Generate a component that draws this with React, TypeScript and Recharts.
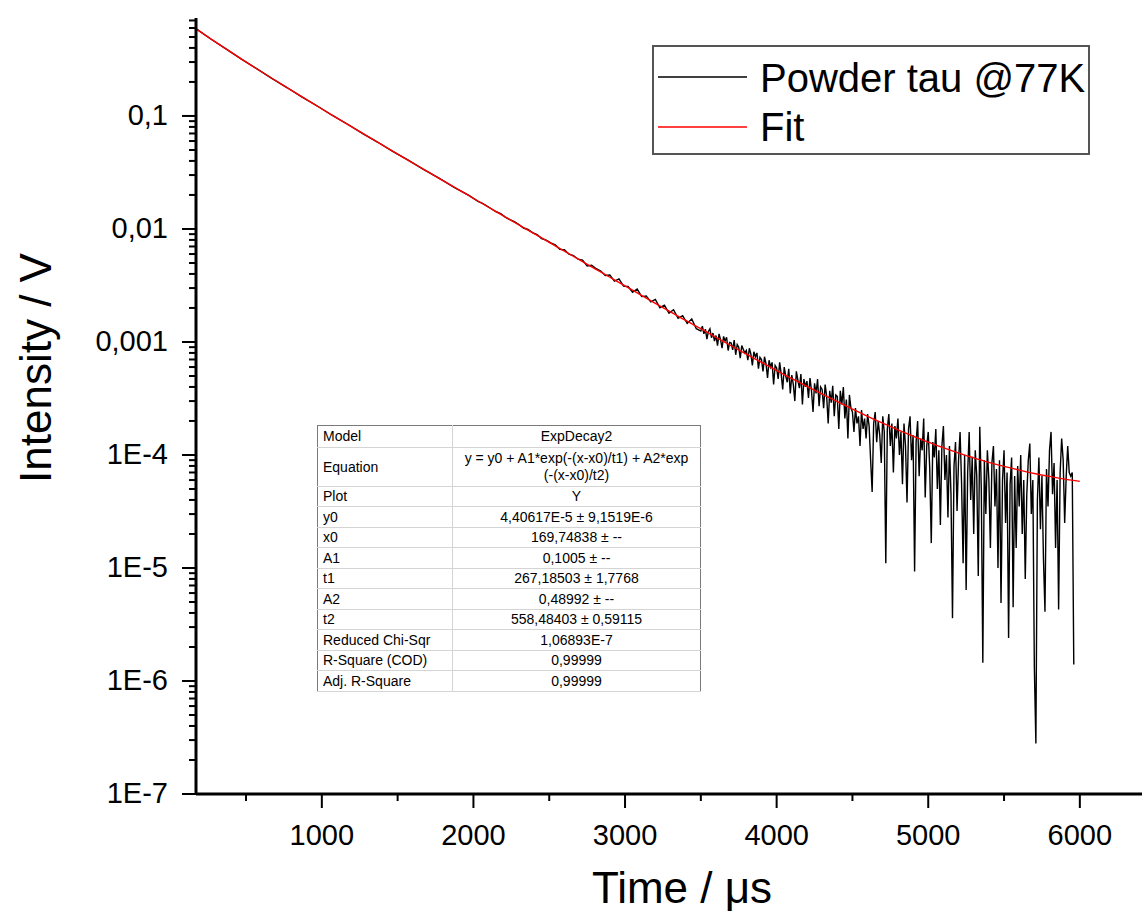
import React from "react";
import { LineChart, Line, XAxis, YAxis } from "recharts";

// measured decay, sampled more finely where the signal gets noisy
const earlyStart = 170;
const earlyStep = 100;
const decayEarly = [
  0.592, 0.477, 0.391, 0.318, 0.262, 0.215, 0.1785, 0.1468, 0.1225, 0.101,
  0.0845, 0.0698, 0.0585, 0.0484, 0.0407, 0.0337, 0.0283, 0.0235, 0.0198,
];

const midStart = 2000;
const midStep = 30;
const decayMid = [
  0.01866, 0.01758, 0.01688, 0.01590, 0.01502, 0.01420, 0.01368, 0.01275, 0.01212, 0.01160,
  0.01095, 0.01020, 0.00990, 0.00928, 0.00890, 0.00821, 0.00798, 0.00755, 0.00722, 0.00660,
  0.00655, 0.00598, 0.00581, 0.00540, 0.00530, 0.00470, 0.00478, 0.00445, 0.00425, 0.00388,
  0.00392, 0.00346, 0.00361, 0.00312, 0.00310, 0.00275, 0.00294, 0.00252, 0.00255, 0.00226,
  0.00238, 0.00201, 0.00212, 0.00180, 0.00193, 0.00162, 0.00171, 0.00146, 0.00160, 0.00131,
];

const lateStart = 3500;
const lateStep = 10;
const decayLate = [
  1.25e-3, 1.38e-3, 1.18e-3, 1.30e-3, 1.06e-3, 1.24e-3, 1.31e-3, 1.09e-3, 1.20e-3, 1.02e-3,
  1.14e-3, 0.93e-3, 1.18e-3, 1.05e-3, 0.88e-3, 1.12e-3, 1.02e-3, 1.10e-3, 0.84e-3, 0.99e-3,
  0.98e-3, 0.85e-3, 1.04e-3, 0.77e-3, 0.95e-3, 0.90e-3, 0.72e-3, 0.93e-3, 0.86e-3, 0.80e-3,
  0.84e-3, 0.69e-3, 0.88e-3, 0.78e-3, 0.62e-3, 0.82e-3, 0.74e-3, 0.80e-3, 0.58e-3, 0.73e-3,
  0.70e-3, 0.55e-3, 0.74e-3, 0.64e-3, 0.48e-3, 0.69e-3, 0.60e-3, 0.66e-3, 0.42e-3, 0.62e-3,
  0.59e-3, 0.47e-3, 0.66e-3, 0.52e-3, 0.38e-3, 0.60e-3, 0.50e-3, 0.44e-3, 0.58e-3, 0.35e-3,
  0.51e-3, 0.42e-3, 0.30e-3, 0.55e-3, 0.46e-3, 0.39e-3, 0.52e-3, 0.28e-3, 0.47e-3, 0.40e-3,
  0.45e-3, 0.32e-3, 0.48e-3, 0.37e-3, 0.24e-3, 0.43e-3, 0.35e-3, 0.47e-3, 0.27e-3, 0.40e-3,
  0.38e-3, 0.26e-3, 0.42e-3, 0.33e-3, 0.19e-3, 0.37e-3, 0.29e-3, 0.41e-3, 0.22e-3, 0.34e-3,
  0.33e-3, 0.17e-3, 0.37e-3, 0.28e-3, 0.40e-3, 0.21e-3, 0.31e-3, 0.14e-3, 0.34e-3, 0.26e-3,
];

const tailStart = 4500;
const tailStep = 10;
const decayTail = [
  2.4e-4, 1.6e-4, 2.6e-4, 1.9e-4, 2.2e-4, 1.2e-4, 2.5e-4, 1.7e-4, 2.1e-4, 1.4e-4,
  2.3e-4, 1.8e-4, 9.0e-5, 4.7e-5, 1.9e-4, 2.4e-4, 1.3e-4, 2.0e-4, 1.5e-4, 8.5e-5,
  2.2e-4, 1.6e-4, 1.1e-5, 1.7e-4, 2.3e-4, 1.2e-4, 1.9e-4, 7.0e-5, 1.8e-4, 1.4e-4,
  2.1e-4, 1.0e-4, 1.6e-4, 5.5e-5, 1.9e-4, 1.2e-4, 3.8e-5, 1.7e-4, 2.2e-4, 9.0e-5,
  1.5e-4, 9.3e-6, 1.3e-4, 2.0e-4, 6.5e-5, 1.4e-4, 1.1e-4, 2.1e-4, 4.2e-5, 1.2e-4,
  1.6e-4, 7.5e-5, 1.66e-5, 1.3e-4, 9.5e-5, 1.7e-4, 5.0e-5, 1.1e-4, 2.4e-5, 1.2e-4,
  1.8e-4, 6.0e-5, 1.0e-4, 2.8e-5, 1.2e-4, 4.5e-5, 3.6e-6, 8.0e-5, 1.3e-4, 3.2e-5,
  9.0e-5, 1.6e-4, 5.5e-5, 1.1e-5, 1.0e-4, 6.4e-6, 7.0e-5, 1.6e-4, 4.0e-5, 9.5e-5,
  2.0e-5, 1.1e-4, 6.5e-5, 8.5e-6, 1.78e-4, 5.0e-5, 1.45e-6, 9.0e-5, 3.0e-5, 1.1e-4,
  6.0e-5, 1.5e-5, 8.5e-5, 1.2e-4, 3.5e-5, 7.5e-5, 1.0e-5, 9.0e-5, 4.9e-6, 6.0e-5,
  1.1e-4, 2.5e-5, 7.0e-5, 2.4e-6, 5.5e-5, 9.5e-5, 4.5e-6, 6.5e-5, 1.5e-5, 8.0e-5,
  3.5e-5, 1.0e-4, 2.0e-5, 6.0e-5, 8.0e-6, 4.5e-5, 9.0e-5, 1.26e-4, 3.0e-5, 6.0e-5,
  1.3e-6, 2.8e-7, 4.0e-5, 9.5e-5, 2.2e-5, 6.5e-5, 1.2e-5, 4.1e-6, 7.5e-5, 3.5e-5,
  1.1e-4, 1.6e-4, 4.5e-5, 8.5e-5, 1.5e-5, 6.0e-5, 4.3e-6, 7.0e-5, 1.4e-4, 9.0e-5,
  2.5e-5, 6.5e-5, 1.2e-4, 7.0e-5, 6.5e-5, 7.0e-5, 1.4e-6,
];

// ExpDecay2 fit curve
const fitTimes = [
  170, 270, 370, 470, 570, 670, 770, 870, 970, 1070, 1170, 1270, 1370, 1470, 1570, 1670,
  1770, 1870, 1970, 2100, 2200, 2300, 2400, 2500, 2600, 2700, 2800, 2900, 3000, 3100, 3200,
  3300, 3400, 3500, 3600, 3700, 3800, 3900, 4000, 4100, 4200, 4300, 4400, 4500, 4600, 4700,
  4800, 4900, 5000, 5100, 5200, 5300, 5400, 5500, 5600, 5700, 5800, 5900, 6000,
];
const fitValues = [
  0.5905, 0.4785, 0.3898, 0.3189, 0.2618, 0.2156, 0.178, 0.1473, 0.1221, 0.1013, 0.0842,
  0.07, 0.0583, 0.0486, 0.0405, 0.0338, 0.0282, 0.0236, 0.0197, 0.01557, 0.013, 0.01088,
  0.0091, 0.00762, 0.00637, 0.00533, 0.00446, 0.00374, 0.00313, 0.00263, 0.0022, 0.00185,
  0.00155, 0.00131, 0.0011, 0.000926, 0.000781, 0.000661, 0.000559, 0.000475, 0.000404,
  0.000345, 0.000296, 0.000255, 0.00022, 0.000191, 0.000167, 0.000147, 0.00013, 0.000116,
  0.000104, 9.44e-5, 8.61e-5, 7.92e-5, 7.35e-5, 6.86e-5, 6.46e-5, 6.12e-5, 5.84e-5,
];

const xMajorTicks = [1000, 2000, 3000, 4000, 5000, 6000];
const xMinorTicks = [500, 1500, 2500, 3500, 4500, 5500];
const yMajorTicks = [1e-7, 1e-6, 1e-5, 1e-4, 1e-3, 1e-2, 1e-1];
const yTickLabels = ["1E-7", "1E-6", "1E-5", "1E-4", "0,001", "0,01", "0,1"];
const yMinorSteps = [2, 3, 4, 5, 6, 7, 8, 9];

const tableRows = [
  ["Model", "ExpDecay2"],
  ["Equation", "y = y0 + A1*exp(-(x-x0)/t1) + A2*exp\n(-(x-x0)/t2)"],
  ["Plot", "Y"],
  ["y0", "4,40617E-5 ± 9,1519E-6"],
  ["x0", "169,74838 ± --"],
  ["A1", "0,1005 ± --"],
  ["t1", "267,18503 ± 1,7768"],
  ["A2", "0,48992 ± --"],
  ["t2", "558,48403 ± 0,59115"],
  ["Reduced Chi-Sqr", "1,06893E-7"],
  ["R-Square (COD)", "0,99999"],
  ["Adj. R-Square", "0,99999"],
];

const FONT = '"Liberation Sans", Arial, sans-serif';

const toSeries = (start: number, step: number, values: number[]) =>
  values.map((v, i) => ({ t: start + i * step, v }));

const measured = [
  ...toSeries(earlyStart, earlyStep, decayEarly),
  ...toSeries(midStart, midStep, decayMid),
  ...toSeries(lateStart, lateStep, decayLate),
  ...toSeries(tailStart, tailStep, decayTail),
];
const fit = fitTimes.map((t, i) => ({ t, v: fitValues[i] }));

const yMinorTicks = yMajorTicks.flatMap((d) => yMinorSteps.map((m) => d * m)).filter((v) => v < 0.736);
const yAllTicks = [...yMajorTicks, ...yMinorTicks];
const xAllTicks = [...xMajorTicks, ...xMinorTicks];

function YTick(props: any) {
  const { x, y, payload } = props;
  const idx = yMajorTicks.indexOf(payload.value);
  const major = idx >= 0;
  return (
    <g>
      <line x1={x - (major ? 14 : 7)} x2={x} y1={y} y2={y} stroke="#000" strokeWidth={2} />
      {major && (
        <text x={x - 28} y={y + 9} textAnchor="end" fontSize={29} fontFamily={FONT} fill="#000">
          {yTickLabels[idx]}
        </text>
      )}
    </g>
  );
}

function XTick(props: any) {
  const { x, y, payload } = props;
  const major = xMajorTicks.includes(payload.value);
  return (
    <g>
      <line x1={x} x2={x} y1={y} y2={y + (major ? 14 : 7)} stroke="#000" strokeWidth={2} />
      {major && (
        <text x={x} y={y + 51} textAnchor="middle" fontSize={29} fontFamily={FONT} fill="#000">
          {payload.value}
        </text>
      )}
    </g>
  );
}

function FitTable() {
  const heights = [22, 39, 20, 21, 20, 21, 20, 21, 20, 21, 20, 21];
  return (
    <table
      style={{
        position: "absolute",
        left: 317,
        top: 425,
        width: 384,
        borderCollapse: "collapse",
        border: "1.5px solid #7a7a7a",
        fontFamily: FONT,
        fontSize: 14,
        background: "#fff",
        tableLayout: "fixed",
      }}
    >
      <colgroup>
        <col style={{ width: 135 }} />
        <col />
      </colgroup>
      <tbody>
        {tableRows.map(([k, v], i) => (
          <tr key={k} style={{ height: heights[i] }}>
            <td style={{ borderBottom: "1px solid #d4d4d4", borderRight: "1px solid #d4d4d4", padding: "0 5px", lineHeight: "17px" }}>{k}</td>
            <td style={{ borderBottom: "1px solid #d4d4d4", textAlign: "center", padding: 0, lineHeight: "17px", whiteSpace: "pre-line" }}>{v}</td>
          </tr>
        ))}
      </tbody>
    </table>
  );
}

export default function App() {
  return (
    <div style={{ position: "absolute", left: 0, top: 0, width: 1142, height: 918, background: "#fff", overflow: "hidden" }}>
      <LineChart width={1142} height={918} margin={{ top: 18, right: 0, bottom: 0, left: 0 }}>
        <XAxis
          type="number"
          dataKey="t"
          domain={[170, 6410]}
          allowDataOverflow
          ticks={xAllTicks}
          interval={0}
          height={124}
          tickSize={0}
          tickMargin={0}
          tickLine={false}
          tick={<XTick />}
          axisLine={{ stroke: "#000", strokeWidth: 3 }}
        />
        <YAxis
          type="number"
          dataKey="v"
          scale="log"
          domain={[1e-7, 0.736]}
          allowDataOverflow
          ticks={yAllTicks}
          interval={0}
          width={196}
          tickSize={0}
          tickMargin={0}
          tickLine={false}
          tick={<YTick />}
          axisLine={{ stroke: "#000", strokeWidth: 3 }}
        />
        <Line
          data={measured}
          dataKey="v"
          type="linear"
          stroke="#000"
          strokeWidth={1.4}
          dot={false}
          isAnimationActive={false}
        />
        <Line
          data={fit}
          dataKey="v"
          type="monotone"
          stroke="#ff0000"
          strokeWidth={1.4}
          dot={false}
          isAnimationActive={false}
        />
      </LineChart>
      <svg width={1142} height={918} style={{ position: "absolute", left: 0, top: 0, pointerEvents: "none" }}>
        <text x={682} y={903} textAnchor="middle" fontSize={44} fontFamily={FONT} fill="#000">
          Time / μs
        </text>
        <text
          transform="translate(51,368) rotate(-90)"
          textAnchor="middle"
          fontSize={44}
          fontFamily={FONT}
          fill="#000"
        >
          Intensity / V
        </text>
        <rect x={653} y={46} width={436} height={108} fill="#fff" stroke="#555" strokeWidth={2} />
        <line x1={658} x2={747} y1={77} y2={77} stroke="#000" strokeWidth={1.4} />
        <text x={760} y={92} fontSize={40} fontFamily={FONT} fill="#000">
          Powder tau @77K
        </text>
        <line x1={658} x2={747} y1={127} y2={127} stroke="#ff0000" strokeWidth={1.4} />
        <text x={760} y={141} fontSize={40} fontFamily={FONT} fill="#000">
          Fit
        </text>
      </svg>
      <FitTable />
    </div>
  );
}
